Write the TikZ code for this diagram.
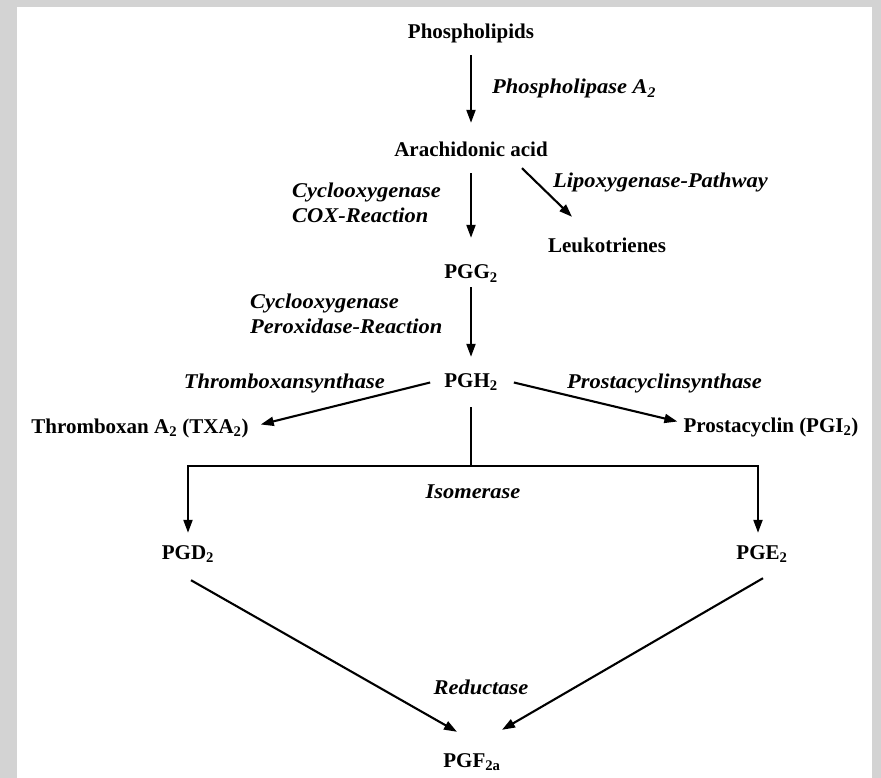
\documentclass[tikz,border=0pt]{standalone}
\usepackage{fontspec}
\setmainfont{Liberation Serif}[BoldItalicFeatures={FakeStretch=1.07}]
\usetikzlibrary{arrows.meta}
\definecolor{framegray}{HTML}{D3D3D3}
\begin{document}
\begin{tikzpicture}[x=1pt,y=-1pt,
  chem/.style={inner sep=0pt,text height=14pt,text depth=5pt,anchor=base,font=\fontsize{21}{25}\selectfont\bfseries},
  enz/.style={inner sep=0pt,font=\fontsize{21}{25}\selectfont\bfseries\itshape},
  link/.style={line width=2.1pt,black},
  arr/.style={link,-{Triangle[length=13pt,width=9pt]}}]
\fill[framegray] (0,0) rectangle (881,778);
\fill[white] (17,7) rectangle (872,778);
\useasboundingbox (0,0) rectangle (881,778);

\node[chem] (phos) at (471,39) {Phospholipids};
\node[chem] (ara) at (471,157) {Arachidonic acid};
\node[chem] (leuko) at (607,252) {Leukotrienes};
\node[chem] (pgg) at (471,279) {PGG\textsubscript{2}};
\node[chem] (pgh) at (471,387) {PGH\textsubscript{2}};
\node[chem] (txa) at (140,433) {Thromboxan A\textsubscript{2} (TXA\textsubscript{2})};
\node[chem] (pgi) at (771,432) {Prostacyclin (PGI\textsubscript{2})};
\node[chem] (pgd) at (188,559) {PGD\textsubscript{2}};
\node[chem] (pge) at (762,559) {PGE\textsubscript{2}};
\node[chem] (pgf) at (472,767) {PGF\textsubscript{2a}};

\node[enz,anchor=base west] (pla) at (492,94) {Phospholipase A\textsubscript{2}};
\node[enz,anchor=base west] (cox1) at (292,198) {Cyclooxygenase};
\node[enz,anchor=base west] (cox2) at (292,223) {COX-Reaction};
\node[enz,anchor=base west] (lox) at (553,188) {Lipoxygenase-Pathway};
\node[enz,anchor=base west] (per1) at (250,308) {Cyclooxygenase};
\node[enz,anchor=base west] (per2) at (250,333) {Peroxidase-Reaction};
\node[enz,anchor=base east] (txs) at (385,388) {Thromboxansynthase};
\node[enz,anchor=base west] (pcs) at (567,388) {Prostacyclinsynthase};
\node[enz,anchor=base] (iso) at (473,498) {Isomerase};
\node[enz,anchor=base] (red) at (481,694) {Reductase};

\coordinate (junc) at (471,466);
\coordinate (jl) at (188,466);
\coordinate (jr) at (758,466);

\draw[arr,shorten <=11pt,shorten >=20pt] (phos.south) -- (ara.north);
\draw[arr,shorten <=11pt,shorten >=27pt] (ara.south) -- (pgg.north);
\draw[arr,shorten <=3pt,shorten >=16pt] (pgg.south) -- (pgh.north);
\draw[arr] ([xshift=51pt,yshift=-6pt]ara.south) -- ([xshift=-35pt,yshift=21pt]leuko.north);
\draw[arr] ([xshift=-14pt]pgh.west) -- ([xshift=12pt,yshift=4pt]txa.east);
\draw[arr] ([xshift=16pt]pgh.east) -- ([xshift=-6pt,yshift=6pt]pgi.west);
\draw[link,shorten <=15pt] (pgh.south) -- (junc);
\draw[arr,shorten >=12pt] (jr) -- (jl) -- (pgd.north);
\draw[arr,line cap=rect,shorten >=12pt] (jr) -- (jr |- pge.north);
\draw[arr] ([xshift=3pt,yshift=-16pt]pgd.south) -- ([xshift=-15pt,yshift=21pt]pgf.north);
\draw[arr] ([xshift=1pt,yshift=-14pt]pge.south) -- ([xshift=30pt,yshift=23pt]pgf.north);
\end{tikzpicture}
\end{document}
